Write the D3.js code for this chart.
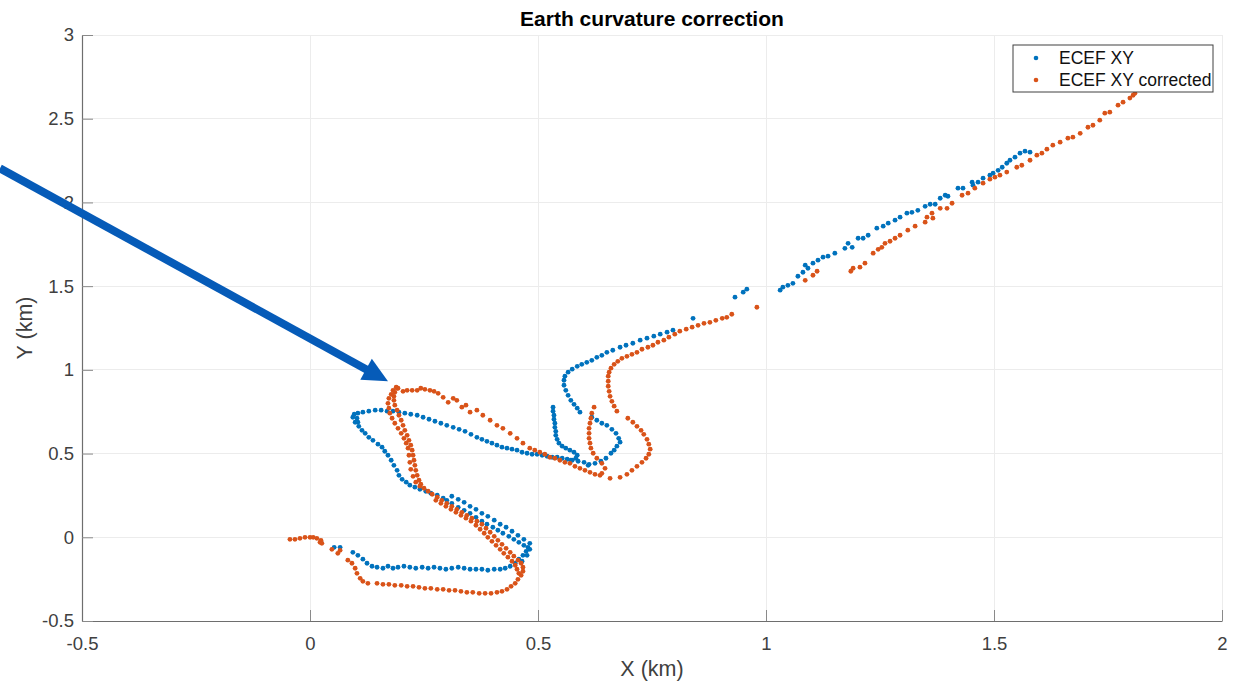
<!DOCTYPE html>
<html>
<head>
<meta charset="utf-8">
<script src="https://cdn.jsdelivr.net/npm/d3@7"></script>
<style>
  html, body { margin: 0; padding: 0; background: #fff; }
  svg { display: block; font-family: "Liberation Sans", Arial, Helvetica, sans-serif; }
</style>
</head>
<body>
<svg id="chart" width="1243" height="681"></svg>
<script>
// ---------------- data (km) ----------------
const titleText = "Earth curvature correction";
const xLabel = "X (km)";
const yLabel = "Y (km)";
const seriesNames = ["ECEF XY", "ECEF XY corrected"];
const seriesColors = ["#0072BD", "#D95319"];
const xTicks = [-0.5, 0, 0.5, 1, 1.5, 2];
const yTicks = [-0.5, 0, 0.5, 1, 1.5, 2, 2.5, 3];
const xDomain = [-0.5, 2];
const yDomain = [-0.5, 3];

// ECEF XY (blue)
const ecefXY = [
  [0.024,-0.028],[0.053,-0.060],[0.066,-0.060],
  [0.094,-0.090],[0.105,-0.108],[0.116,-0.131],[0.125,-0.155],[0.136,-0.173],
  [0.147,-0.179],[0.160,-0.185],[0.171,-0.173],[0.182,-0.185],[0.193,-0.179],[0.206,-0.173],
  [0.219,-0.179],[0.232,-0.185],[0.246,-0.179],[0.259,-0.185],[0.272,-0.179],[0.285,-0.185],
  [0.298,-0.191],[0.311,-0.185],[0.325,-0.179],[0.338,-0.185],[0.351,-0.191],[0.364,-0.191],
  [0.377,-0.191],[0.390,-0.197],[0.404,-0.191],[0.417,-0.191],[0.428,-0.185],[0.439,-0.173],
  [0.450,-0.155],[0.458,-0.131],[0.467,-0.108],[0.474,-0.084],[0.478,-0.060],
  [0.482,-0.072],[0.476,-0.108],[0.465,-0.143],
  [0.469,-0.048],[0.458,-0.030],[0.447,-0.012],[0.436,0.006],[0.423,0.024],[0.412,0.042],
  [0.401,0.060],[0.388,0.078],[0.377,0.096],[0.364,0.119],[0.351,0.143],[0.338,0.161],
  [0.325,0.179],[0.311,0.203],[0.300,0.221],[0.292,0.233],[0.279,0.251],[0.265,0.263],
  [0.254,0.275],[0.241,0.287],[0.230,0.299],[0.219,0.311],[0.211,0.329],[0.202,0.346],
  [0.195,0.370],[0.191,0.400],[0.184,0.430],[0.178,0.460],[0.171,0.490],[0.164,0.514],
  [0.158,0.538],[0.149,0.556],[0.138,0.579],[0.129,0.597],[0.121,0.621],[0.114,0.639],
  [0.107,0.663],[0.105,0.687],[0.103,0.711],[0.099,0.687],[0.094,0.717],[0.097,0.735],
  [0.482,-0.036],[0.469,-0.012],[0.456,0.012],[0.443,0.036],[0.430,0.060],[0.417,0.078],
  [0.404,0.102],[0.390,0.125],[0.377,0.143],[0.364,0.167],[0.351,0.185],[0.338,0.209],
  [0.325,0.227],[0.311,0.245],
  [0.105,0.741],[0.116,0.747],[0.129,0.753],[0.143,0.759],[0.156,0.759],[0.169,0.753],
  [0.182,0.753],[0.195,0.747],[0.208,0.741],[0.221,0.735],[0.235,0.729],[0.248,0.717],
  [0.261,0.705],[0.274,0.693],[0.287,0.681],[0.300,0.669],[0.314,0.657],[0.327,0.645],
  [0.340,0.633],[0.353,0.615],[0.366,0.597],[0.377,0.585],[0.388,0.573],[0.399,0.562],
  [0.410,0.550],[0.421,0.538],[0.432,0.532],[0.443,0.526],[0.454,0.520],[0.465,0.508],
  [0.476,0.502],[0.487,0.496],[0.498,0.496],[0.509,0.490],[0.520,0.484],[0.531,0.478],
  [0.542,0.478],[0.553,0.472],[0.564,0.466],[0.575,0.460],[0.588,0.454],[0.601,0.448],
  [0.612,0.436],
  [0.533,0.777],[0.533,0.753],[0.535,0.729],[0.535,0.705],[0.537,0.681],[0.537,0.657],
  [0.539,0.633],[0.539,0.609],[0.542,0.585],[0.546,0.562],[0.553,0.544],[0.561,0.532],
  [0.570,0.520],[0.579,0.508],[0.586,0.490],[0.583,0.472],[0.572,0.460],
  [0.618,0.717],[0.629,0.699],[0.640,0.681],[0.651,0.669],[0.662,0.645],[0.671,0.621],
  [0.677,0.591],[0.680,0.568],[0.673,0.544],[0.667,0.520],[0.660,0.502],[0.649,0.472],
  [0.638,0.454],[0.625,0.442],[0.610,0.430],
  [0.592,0.747],[0.586,0.771],[0.579,0.794],[0.572,0.818],[0.566,0.848],[0.561,0.878],
  [0.557,0.908],[0.557,0.938],[0.559,0.962],[0.566,0.986],[0.575,1.004],[0.586,1.021],
  [0.596,1.033],[0.607,1.045],[0.618,1.057],[0.629,1.075],[0.640,1.087],[0.651,1.105],
  [0.664,1.117],[0.680,1.135],[0.693,1.147],[0.708,1.159],[0.724,1.177],[0.739,1.189],
  [0.754,1.201],[0.768,1.213],[0.783,1.225],[0.796,1.237],
  [0.840,1.308],
  [0.932,1.434],[0.950,1.464],[0.958,1.482],
  [1.031,1.476],[1.037,1.494],[1.048,1.505],[1.059,1.517],[1.070,1.559],[1.081,1.583],
  [1.086,1.625],[1.092,1.607],[1.103,1.637],[1.114,1.655],[1.125,1.673],[1.136,1.679],
  [1.151,1.697],[1.173,1.726],[1.180,1.756],[1.189,1.732],[1.202,1.786],[1.213,1.786],
  [1.224,1.804],[1.243,1.846],[1.257,1.858],[1.268,1.876],[1.283,1.894],[1.294,1.912],
  [1.309,1.936],[1.320,1.941],[1.333,1.953],[1.349,1.977],[1.360,1.989],[1.371,1.989],
  [1.382,2.025],[1.393,2.043],[1.399,2.037],[1.421,2.085],[1.432,2.085],[1.452,2.121],
  [1.454,2.103],[1.465,2.121],[1.476,2.145],[1.491,2.163],[1.498,2.175],[1.509,2.192],
  [1.518,2.210],[1.528,2.234],[1.535,2.252],[1.546,2.270],[1.557,2.294],[1.568,2.306],
  [1.579,2.300]
];

// ECEF XY corrected (orange)
const correctedXY = [
  [-0.044,-0.012],[-0.033,-0.012],[-0.022,-0.006],[-0.011,0.000],[0.000,0.000],[0.007,0.000],
  [0.015,-0.006],[0.024,-0.018],[0.022,-0.030],[0.026,-0.036],
  [0.048,-0.072],[0.061,-0.096],[0.066,-0.078],
  [0.083,-0.137],[0.092,-0.155],[0.099,-0.185],[0.103,-0.215],[0.110,-0.245],[0.116,-0.263],
  [0.127,-0.275],
  [0.147,-0.275],[0.160,-0.281],[0.173,-0.281],[0.186,-0.287],[0.200,-0.287],[0.213,-0.293],
  [0.226,-0.293],[0.239,-0.299],[0.252,-0.305],[0.265,-0.305],[0.279,-0.311],[0.292,-0.311],
  [0.305,-0.317],[0.318,-0.317],[0.331,-0.323],[0.344,-0.329],[0.357,-0.329],[0.371,-0.335],
  [0.384,-0.335],[0.397,-0.335],[0.410,-0.329],[0.421,-0.323],[0.432,-0.311],[0.441,-0.293],
  [0.450,-0.275],[0.456,-0.251],[0.463,-0.227],[0.467,-0.203],[0.467,-0.179],[0.463,-0.155],
  [0.456,-0.137],[0.447,-0.113],[0.439,-0.090],[0.430,-0.066],[0.421,-0.042],[0.412,-0.018],
  [0.404,0.006],[0.395,0.030],[0.386,0.054],[0.377,0.078],[0.366,0.096],[0.355,0.114],
  [0.344,0.131],[0.333,0.149],[0.322,0.167],[0.311,0.185],[0.300,0.203],[0.289,0.221],
  [0.279,0.239],[0.268,0.257],[0.259,0.275],[0.250,0.293],[0.243,0.317],[0.239,0.341],
  [0.235,0.370],[0.232,0.400],[0.230,0.430],[0.228,0.460],[0.226,0.490],[0.224,0.520],
  [0.221,0.550],[0.217,0.579],[0.213,0.609],[0.208,0.639],[0.204,0.669],[0.200,0.699],
  [0.195,0.729],[0.191,0.759],[0.186,0.789],[0.184,0.818],[0.184,0.842],[0.186,0.866],
  [0.191,0.890],
  [0.175,0.741],[0.173,0.771],[0.171,0.800],[0.173,0.830],[0.178,0.854],[0.182,0.878],
  [0.189,0.896],
  [0.180,0.711],[0.186,0.681],[0.193,0.651],[0.200,0.621],[0.206,0.591],[0.211,0.562],
  [0.215,0.532],[0.217,0.490],[0.219,0.448],[0.221,0.406],[0.226,0.364],[0.232,0.329],
  [0.241,0.305],
  [0.276,0.221],[0.287,0.203],[0.298,0.185],[0.309,0.167],[0.320,0.149],[0.331,0.131],
  [0.342,0.114],[0.353,0.096],[0.364,0.072],[0.373,0.048],[0.382,0.024],[0.390,0.000],
  [0.399,-0.024],[0.408,-0.048],[0.417,-0.072],[0.425,-0.096],[0.434,-0.119],[0.443,-0.143],
  [0.450,-0.167],[0.454,-0.191],[0.458,-0.215],
  [0.193,0.890],[0.204,0.872],[0.213,0.878],[0.224,0.878],[0.235,0.878],[0.243,0.890],
  [0.252,0.884],[0.263,0.878],[0.272,0.872],[0.281,0.860],[0.292,0.836],[0.303,0.806],
  [0.314,0.830],[0.322,0.818],[0.333,0.777],[0.342,0.789],[0.351,0.747],[0.366,0.759],
  [0.379,0.729],[0.395,0.699],[0.410,0.669],[0.423,0.651],[0.439,0.621],[0.454,0.591],
  [0.467,0.562],[0.482,0.532],[0.493,0.520],[0.504,0.508],[0.515,0.496],[0.526,0.478],
  [0.537,0.472],[0.548,0.460],[0.559,0.448],[0.570,0.442],[0.581,0.424],[0.592,0.412],
  [0.603,0.400],[0.614,0.388],[0.625,0.376],[0.636,0.370],
  [0.640,0.382],[0.647,0.412],[0.640,0.442],[0.629,0.472],[0.621,0.502],[0.616,0.532],
  [0.614,0.562],[0.612,0.591],[0.612,0.621],[0.612,0.651],[0.614,0.681],[0.616,0.711],
  [0.618,0.741],[0.623,0.777],
  [0.658,0.352],[0.680,0.358],[0.695,0.376],[0.706,0.400],[0.717,0.424],[0.728,0.448],
  [0.737,0.472],[0.743,0.496],[0.746,0.526],[0.743,0.556],[0.739,0.585],[0.732,0.615],
  [0.726,0.639],[0.717,0.663],[0.708,0.687],[0.697,0.711],
  [0.673,0.753],[0.667,0.783],[0.662,0.812],[0.658,0.842],[0.656,0.872],[0.654,0.902],
  [0.654,0.932],[0.654,0.962],[0.656,0.986],[0.660,1.010],[0.667,1.033],[0.675,1.051],
  [0.684,1.069],[0.695,1.081],[0.706,1.093],[0.717,1.105],[0.728,1.123],[0.741,1.135],
  [0.752,1.147],[0.763,1.165],[0.776,1.177],[0.787,1.195],[0.800,1.213],[0.811,1.231],
  [0.825,1.243],[0.838,1.255],[0.851,1.266],[0.864,1.278],[0.877,1.284],[0.890,1.296],
  [0.904,1.308],[0.914,1.314],[0.925,1.332],
  [0.980,1.374],
  [1.086,1.535],[1.103,1.565],[1.112,1.589],
  [1.186,1.589],[1.191,1.607],[1.206,1.613],[1.217,1.637],[1.235,1.697],[1.246,1.720],
  [1.254,1.732],[1.261,1.756],[1.272,1.768],[1.283,1.786],[1.294,1.804],[1.311,1.834],
  [1.327,1.858],[1.349,1.882],[1.353,1.912],[1.364,1.936],[1.366,1.906],[1.382,1.965],
  [1.397,1.965],[1.408,1.995],[1.430,2.043],[1.443,2.055],[1.458,2.085],[1.476,2.115],
  [1.491,2.139],[1.502,2.151],[1.513,2.163],[1.528,2.181],[1.550,2.210],[1.561,2.222],
  [1.579,2.252],[1.594,2.282],[1.605,2.294],[1.616,2.318],[1.629,2.342],[1.645,2.360],
  [1.662,2.384],[1.673,2.390],[1.689,2.413],[1.706,2.449],[1.717,2.461],[1.732,2.491],
  [1.743,2.533],[1.754,2.539],[1.772,2.581],[1.783,2.599],[1.798,2.623],[1.805,2.640],
  [1.809,2.652]
];

// annotation arrow (data units): start and tip
const arrowStart = [-0.680, 2.204];
const arrowTip = [0.171, 0.932];

// ---------------- drawing ----------------
const svg = d3.select("#chart");
const W = 1243, H = 681;
const plot = { left: 82, right: 1222, top: 35, bottom: 621 };

const x = d3.scaleLinear().domain(xDomain).range([plot.left, plot.right]);
const y = d3.scaleLinear().domain(yDomain).range([plot.bottom, plot.top]);

svg.append("rect").attr("width", W).attr("height", H).attr("fill", "#fff");

// grid
const grid = svg.append("g").attr("class", "grid");
grid.selectAll("line.gx").data(xTicks).join("line")
  .attr("x1", d => x(d)).attr("x2", d => x(d))
  .attr("y1", plot.top).attr("y2", plot.bottom)
  .attr("stroke", "#ececec").attr("stroke-width", 1).attr("shape-rendering", "crispEdges");
grid.selectAll("line.gy").data(yTicks).join("line")
  .attr("x1", plot.left).attr("x2", plot.right)
  .attr("y1", d => y(d)).attr("y2", d => y(d))
  .attr("stroke", "#ececec").attr("stroke-width", 1).attr("shape-rendering", "crispEdges");

const fmt = d => String(d);
const tickFont = 18.5;

// axes
const xAxis = svg.append("g")
  .attr("transform", `translate(0,${plot.bottom})`)
  .call(d3.axisBottom(x).tickValues(xTicks).tickFormat(fmt).tickSizeInner(-11).tickSizeOuter(0).tickPadding(16));
const yAxis = svg.append("g")
  .attr("transform", `translate(${plot.left},0)`)
  .call(d3.axisLeft(y).tickValues(yTicks).tickFormat(fmt).tickSizeInner(-11).tickSizeOuter(0).tickPadding(8));

[xAxis, yAxis].forEach(g => {
  g.select(".domain").attr("stroke", "#6e6e6e").attr("stroke-width", 1.2);
  g.selectAll(".tick line").attr("stroke", "#8a8a8a").attr("stroke-width", 1);
  g.selectAll(".tick text").attr("fill", "#404040").attr("font-size", tickFont)
    .attr("font-family", "'Liberation Sans', Arial, sans-serif");
});

// points
const dotR = 2.4;
svg.append("g").selectAll("circle").data(ecefXY).join("circle")
  .attr("cx", d => x(d[0])).attr("cy", d => y(d[1])).attr("r", dotR)
  .attr("fill", seriesColors[0]);
svg.append("g").selectAll("circle").data(correctedXY).join("circle")
  .attr("cx", d => x(d[0])).attr("cy", d => y(d[1])).attr("r", dotR)
  .attr("fill", seriesColors[1]);

// title & labels
svg.append("text").attr("x", (plot.left + plot.right) / 2).attr("y", 26)
  .attr("text-anchor", "middle").attr("font-size", 21).attr("font-weight", "bold")
  .attr("fill", "#000").text(titleText);
svg.append("text").attr("x", (plot.left + plot.right) / 2).attr("y", 676)
  .attr("text-anchor", "middle").attr("font-size", 21.5).attr("fill", "#404040").text(xLabel);
svg.append("text")
  .attr("transform", `translate(32,${(plot.top + plot.bottom) / 2}) rotate(-90)`)
  .attr("text-anchor", "middle").attr("font-size", 21.5).attr("fill", "#404040").text(yLabel);

// legend
const leg = svg.append("g").attr("transform", "translate(1013,45)");
leg.append("rect").attr("width", 200).attr("height", 47)
  .attr("fill", "#fff").attr("stroke", "#404040").attr("stroke-width", 1);
seriesNames.forEach((name, i) => {
  const cy = 13 + i * 22;
  leg.append("circle").attr("cx", 23).attr("cy", cy).attr("r", 2.3).attr("fill", seriesColors[i]);
  leg.append("text").attr("x", 46).attr("y", cy + 6).attr("font-size", 17.5)
    .attr("fill", "#111").text(name);
});

// arrow annotation
const ax0 = x(arrowStart[0]), ay0 = y(arrowStart[1]);
const ax1 = x(arrowTip[0]), ay1 = y(arrowTip[1]);
const dx = ax1 - ax0, dy = ay1 - ay0, len = Math.hypot(dx, dy);
const ux = dx / len, uy = dy / len, nx = -uy, ny = ux;
const headL = 25, headW = 12;
const bx = ax1 - headL * ux, by = ay1 - headL * uy;
const arrowColor = "#065bb8";
svg.append("line").attr("x1", ax0).attr("y1", ay0).attr("x2", bx + 2 * ux).attr("y2", by + 2 * uy)
  .attr("stroke", arrowColor).attr("stroke-width", 8);
svg.append("path")
  .attr("d", `M${ax1},${ay1}L${bx + headW * nx},${by + headW * ny}L${bx - headW * nx},${by - headW * ny}Z`)
  .attr("fill", arrowColor);
</script>
</body>
</html>
